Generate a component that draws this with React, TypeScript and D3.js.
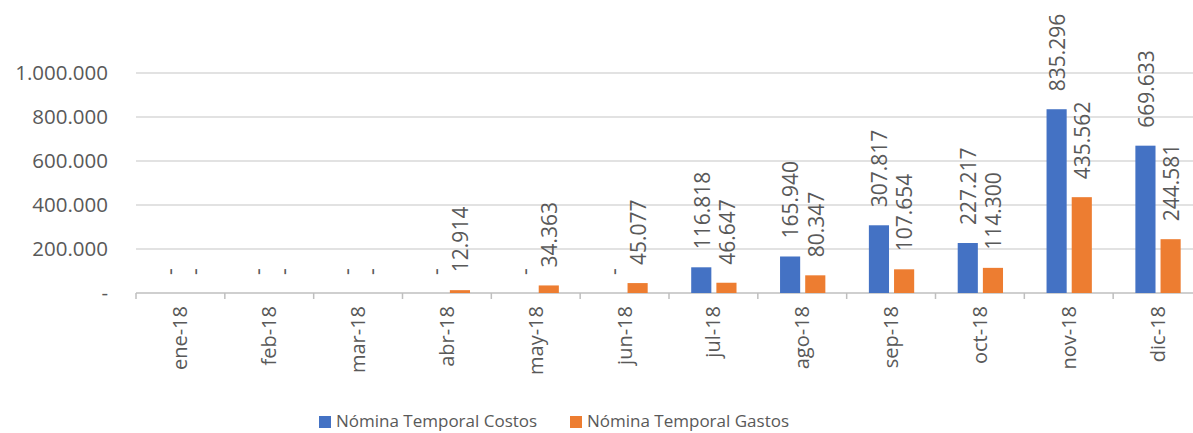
import React, { useEffect, useRef } from 'react'
import * as d3 from 'd3'

const months = ['ene-18', 'feb-18', 'mar-18', 'abr-18', 'may-18', 'jun-18', 'jul-18', 'ago-18', 'sep-18', 'oct-18', 'nov-18', 'dic-18']
const costos = [0, 0, 0, 0, 0, 0, 116818, 165940, 307817, 227217, 835296, 669633]
const gastos = [0, 0, 0, 12914, 34363, 45077, 46647, 80347, 107654, 114300, 435562, 244581]
const seriesNames = ['Nómina Temporal Costos', 'Nómina Temporal Gastos']
const colors = ['#4472c4', '#ed7d31']
const yTicks = [0, 200000, 400000, 600000, 800000, 1000000]

function App() {
  const svgRef = useRef<SVGSVGElement>(null)

  useEffect(() => {
    const w = 1193
    const h = 433
    const font = '"Open Sans", sans-serif'
    const textColor = '#595959'
    const svg = d3.select(svgRef.current)
    svg.selectAll('*').remove()
    svg.attr('width', w).attr('height', h)

    const locale = d3.formatLocale({ decimal: ',', thousands: '.', grouping: [3], currency: ['$', ''] })
    const fmt = (v: number) => (v === 0 ? '-' : locale.format(',d')(v))

    const x0 = d3.scaleBand().domain(months).range([136, 1202]).padding(0)
    const bw = x0.bandwidth()
    const x1 = d3.scaleBand<number>().domain([0, 1]).range([bw * 0.25, bw * 0.76]).paddingInner(0.2)
    const y = d3.scaleLinear().domain([0, 1000000]).range([293, 73])

    // gridlines
    svg.append('g')
      .selectAll('line')
      .data(yTicks.filter(d => d > 0))
      .join('line')
      .attr('x1', 136)
      .attr('x2', w)
      .attr('y1', d => y(d))
      .attr('y2', d => y(d))
      .attr('stroke', '#d9d9d9')
      .attr('stroke-width', 1.5)

    // y labels
    svg.append('g')
      .selectAll('text')
      .data(yTicks)
      .join('text')
      .attr('x', 108)
      .attr('y', d => y(d))
      .attr('dy', '0.35em')
      .attr('text-anchor', 'end')
      .attr('font-family', font)
      .attr('font-size', 20.5)
      .attr('fill', textColor)
      .text(d => fmt(d))

    // x axis
    const xAxis = svg.append('g')
    xAxis.append('line')
      .attr('x1', 136).attr('x2', w)
      .attr('y1', y(0)).attr('y2', y(0))
      .attr('stroke', '#bfbfbf').attr('stroke-width', 1.5)
    xAxis.selectAll('line.tick')
      .data(months)
      .join('line')
      .attr('class', 'tick')
      .attr('x1', d => x0(d)!)
      .attr('x2', d => x0(d)!)
      .attr('y1', y(0))
      .attr('y2', y(0) + 6)
      .attr('stroke', '#bfbfbf')
      .attr('stroke-width', 1.5)
    xAxis.selectAll('text')
      .data(months)
      .join('text')
      .attr('transform', d => `translate(${x0(d)! + bw / 2},306) rotate(-90)`)
      .attr('dy', '0.35em')
      .attr('text-anchor', 'end')
      .attr('font-family', font)
      .attr('font-size', 20)
      .attr('fill', textColor)
      .text(d => d)

    // bars + labels
    const allSeries = [costos, gastos]
    allSeries.forEach((vals, si) => {
      const g = svg.append('g')
      g.selectAll('rect')
        .data(vals)
        .join('rect')
        .attr('x', (v, i) => x0(months[i])! + x1(si)!)
        .attr('y', v => y(v))
        .attr('width', x1.bandwidth())
        .attr('height', v => y(0) - y(v))
        .attr('fill', colors[si])
      g.selectAll('text')
        .data(vals)
        .join('text')
        .attr('transform', (v, i) => `translate(${x0(months[i])! + x1(si)! + x1.bandwidth() / 2 + 1},${y(v) - 18}) rotate(-90)`)
        .attr('dy', '0.35em')
        .attr('text-anchor', 'start')
        .attr('font-family', font)
        .attr('font-size', 21)
        .attr('fill', textColor)
        .text(v => fmt(v))
    })

    // legend
    const legend = svg.append('g')
    const legendX = [319, 570]
    seriesNames.forEach((name, i) => {
      legend.append('rect')
        .attr('x', legendX[i]).attr('y', 416)
        .attr('width', 12).attr('height', 12)
        .attr('fill', colors[i])
      legend.append('text')
        .attr('x', legendX[i] + 17).attr('y', 421)
        .attr('dy', '0.35em')
        .attr('font-family', font)
        .attr('font-size', 17)
        .attr('fill', textColor)
        .text(name)
    })
  }, [])

  return (
    <div style={{ position: 'absolute', left: 0, top: 0 }}>
      <svg ref={svgRef} style={{ display: 'block', overflow: 'hidden' }}></svg>
    </div>
  )
}

export default App
